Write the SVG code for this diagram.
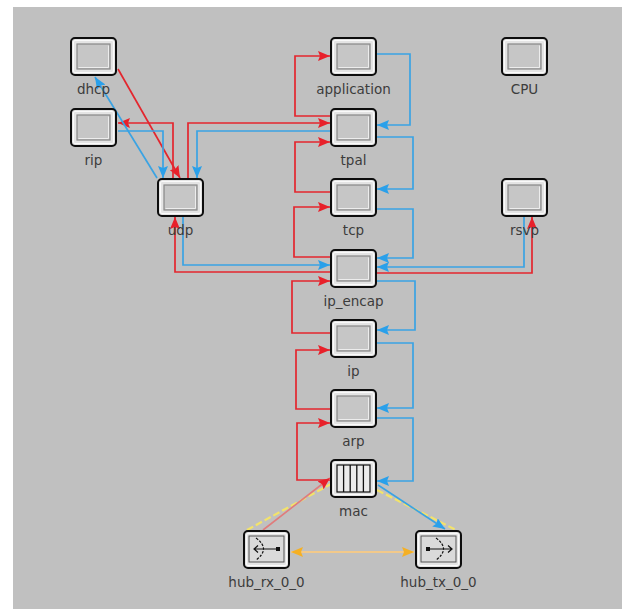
<svg xmlns="http://www.w3.org/2000/svg" xmlns:xlink="http://www.w3.org/1999/xlink" width="622" height="609" viewBox="0 0 622 609">
<style>
.lbl{font-family:"DejaVu Sans","Liberation Sans",sans-serif;font-size:13.5px;fill:#3c3c3c;text-anchor:middle}
.r{fill:none;stroke:#e3262e;stroke-width:1.7;marker-end:url(#arR)}
.b{fill:none;stroke:#3aa3e3;stroke-width:1.7;marker-end:url(#arB)}
.y{fill:none;stroke:#f3e36a;stroke-width:2.2;stroke-dasharray:7 3}
</style>
<defs>
<marker id="arR" viewBox="0 0 12 10" refX="12" refY="5" markerWidth="12" markerHeight="10" markerUnits="userSpaceOnUse" orient="auto"><path d="M0,0 L12,5 L0,10 L2,5 z" fill="#e8202a"/></marker>
<marker id="arB" viewBox="0 0 12 10" refX="12" refY="5" markerWidth="12" markerHeight="10" markerUnits="userSpaceOnUse" orient="auto"><path d="M0,0 L12,5 L0,10 L2,5 z" fill="#2aa0ea"/></marker>
<marker id="arO" viewBox="0 0 12 10" refX="12" refY="5" markerWidth="12" markerHeight="10" markerUnits="userSpaceOnUse" orient="auto-start-reverse"><path d="M0,0 L12,5 L0,10 L2,5 z" fill="#f5b024"/></marker>
<g id="shell">
<rect x="1" y="1" width="45" height="37" rx="4" fill="#e4e4e4" stroke="#0d0d0d" stroke-width="2"/>
<rect x="3.5" y="3.5" width="40" height="32" rx="1.5" fill="none" stroke="#fafafa" stroke-width="1"/>
</g>
<g id="frame">
<use xlink:href="#shell"/>
<rect x="7" y="7" width="33" height="25" fill="#c6c6c6" stroke="#888" stroke-width="1.2"/>
<path d="M8.5,30.5 H38.5 V8.5" fill="none" stroke="#ededed" stroke-width="1"/>
</g>
</defs>
<rect x="0" y="0" width="622" height="609" fill="#ffffff"/>
<rect x="13" y="7" width="609" height="602" fill="#c0c0c0"/>

<g id="connectors">
<path class="r" d="M118,69 L180,178"/>
<path class="r" d="M173,178 V123 H118"/>
<path class="r" d="M188,178 V123 H330"/>
<path class="r" d="M330,116 H295 V56 H330"/>
<path class="r" d="M330,192 H295 V142 H330"/>
<path class="r" d="M330,257 H294 V207 H330"/>
<path class="r" d="M330,272 H175 V217"/>
<path class="r" d="M377,273 H532 V217"/>
<path class="r" d="M330,333 H292 V281 H330"/>
<path class="r" d="M330,409 H296 V350 H330"/>
<path class="r" d="M330,480 H297 V423 H330"/>
<path class="b" d="M157,178 L95,77"/>
<path class="b" d="M118,131 H163 V178"/>
<path class="b" d="M330,131 H197 V178"/>
<path class="b" d="M377,54 H410 V125 H377"/>
<path class="b" d="M377,137 H413 V189 H377"/>
<path class="b" d="M377,209 H413 V258 H377"/>
<path class="b" d="M183,217 V265 H330"/>
<path class="b" d="M524,217 V267 H377"/>
<path class="b" d="M377,281 H415 V330 H377"/>
<path class="b" d="M377,343 H413 V408 H377"/>
<path class="b" d="M377,418 H413 V481 H377"/>
<path class="y" d="M247,530 L331,484"/>
<path d="M263,530 L330,478" fill="none" stroke="#e07c7c" stroke-width="1.6" marker-end="url(#arR)"/>
<path class="y" d="M377,490 L456,530"/>
<path class="b" d="M378,485 L445,529"/>
<path d="M291,552 H414" fill="none" stroke="#f2c98a" stroke-width="2" marker-start="url(#arO)" marker-end="url(#arO)"/>
</g>

<g id="dhcp"><use xlink:href="#frame" x="70" y="37"/><text class="lbl" x="93.5" y="94">dhcp</text></g>
<g id="rip"><use xlink:href="#frame" x="70" y="108"/><text class="lbl" x="93.5" y="165">rip</text></g>
<g id="udp"><use xlink:href="#frame" x="157" y="178"/><text class="lbl" x="180.5" y="235">udp</text></g>
<g id="application"><use xlink:href="#frame" x="330" y="37"/><text class="lbl" x="353.5" y="94">application</text></g>
<g id="tpal"><use xlink:href="#frame" x="330" y="108"/><text class="lbl" x="353.5" y="165">tpal</text></g>
<g id="tcp"><use xlink:href="#frame" x="330" y="178"/><text class="lbl" x="353.5" y="235">tcp</text></g>
<g id="CPU"><use xlink:href="#frame" x="501" y="37"/><text class="lbl" x="524.5" y="94">CPU</text></g>
<g id="rsvp"><use xlink:href="#frame" x="501" y="178"/><text class="lbl" x="524.5" y="235">rsvp</text></g>
<g id="ip_encap"><use xlink:href="#frame" x="330" y="249"/><text class="lbl" x="353.5" y="306">ip_encap</text></g>
<g id="ip"><use xlink:href="#frame" x="330" y="319"/><text class="lbl" x="353.5" y="376">ip</text></g>
<g id="arp"><use xlink:href="#frame" x="330" y="389"/><text class="lbl" x="353.5" y="446">arp</text></g>
<g id="mac">
<use xlink:href="#shell" x="330" y="459"/>
<rect x="337" y="465" width="33" height="27" fill="#ececec" stroke="#111" stroke-width="1.2"/>
<path d="M343.6,465 V492 M350.2,465 V492 M356.8,465 V492 M363.4,465 V492" stroke="#111" stroke-width="1.3"/>
<text class="lbl" x="353.5" y="516">mac</text>
</g>
<g id="hub_rx_0_0">
<use xlink:href="#shell" x="243" y="530"/>
<rect x="249" y="536" width="35" height="26" fill="#dadada" stroke="#555" stroke-width="1"/>
<path d="M256,538 Q271,549 256,560" fill="none" stroke="#111" stroke-width="1.2" stroke-dasharray="2.5 1.5"/>
<path d="M277,549 H254 M258,545.5 L254,549 L258,552.5" fill="none" stroke="#111" stroke-width="1.2"/>
<rect x="276" y="547" width="4" height="4" fill="#111"/>
<text class="lbl" x="266.5" y="587">hub_rx_0_0</text>
</g>
<g id="hub_tx_0_0">
<use xlink:href="#shell" x="415" y="530"/>
<rect x="421" y="536" width="35" height="26" fill="#dadada" stroke="#555" stroke-width="1"/>
<path d="M436,538 Q451,549 436,560" fill="none" stroke="#111" stroke-width="1.2" stroke-dasharray="2.5 1.5"/>
<path d="M429,549 H452 M448,545.5 L452,549 L448,552.5" fill="none" stroke="#111" stroke-width="1.2"/>
<rect x="426" y="547" width="4" height="4" fill="#111"/>
<text class="lbl" x="438.5" y="587">hub_tx_0_0</text>
</g>
</svg>
